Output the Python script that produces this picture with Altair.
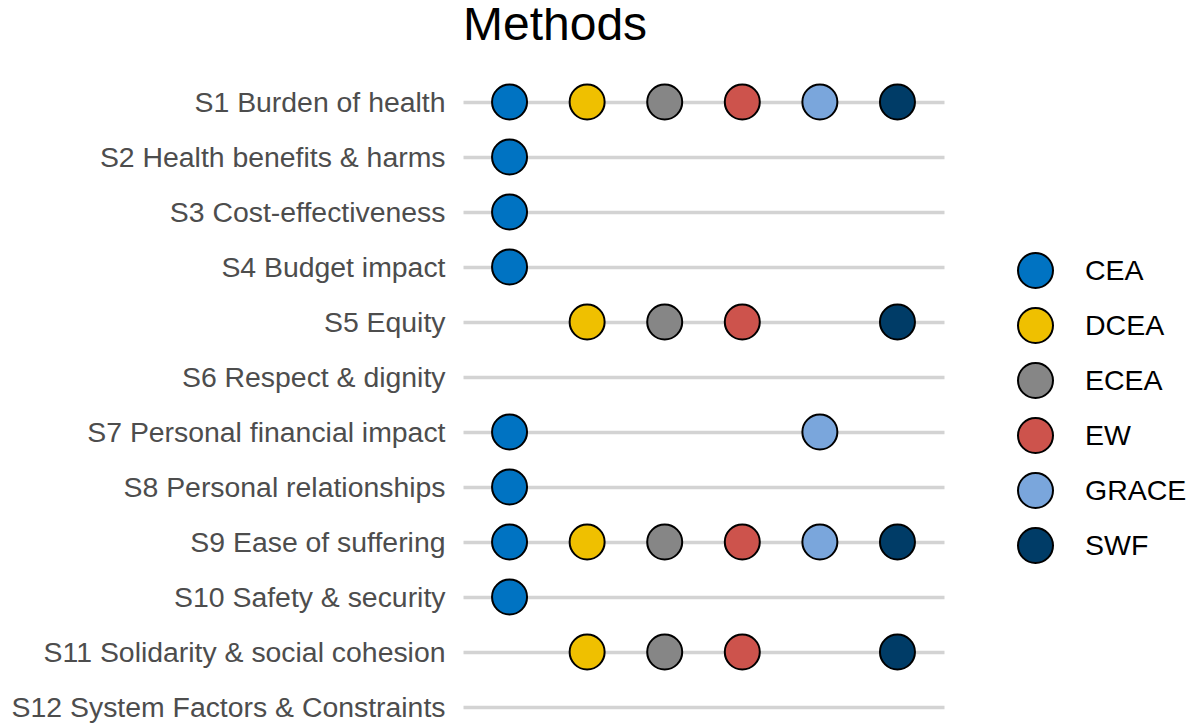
import altair as alt
import pandas as pd

sections = [
    "S1 Burden of health",
    "S2 Health benefits & harms",
    "S3 Cost-effectiveness",
    "S4 Budget impact",
    "S5 Equity",
    "S6 Respect & dignity",
    "S7 Personal financial impact",
    "S8 Personal relationships",
    "S9 Ease of suffering",
    "S10 Safety & security",
    "S11 Solidarity & social cohesion",
    "S12 System Factors & Constraints",
]
methods = ["CEA", "DCEA", "ECEA", "EW", "GRACE", "SWF"]
colors = ["#0073C2", "#EFC000", "#868686", "#CD534C", "#7AA6DC", "#003C67"]

# methods linked to each section
links = {
    "S1 Burden of health": ["CEA", "DCEA", "ECEA", "EW", "GRACE", "SWF"],
    "S2 Health benefits & harms": ["CEA"],
    "S3 Cost-effectiveness": ["CEA"],
    "S4 Budget impact": ["CEA"],
    "S5 Equity": ["DCEA", "ECEA", "EW", "SWF"],
    "S6 Respect & dignity": [],
    "S7 Personal financial impact": ["CEA", "GRACE"],
    "S8 Personal relationships": ["CEA"],
    "S9 Ease of suffering": ["CEA", "DCEA", "ECEA", "EW", "GRACE", "SWF"],
    "S10 Safety & security": ["CEA"],
    "S11 Solidarity & social cohesion": ["DCEA", "ECEA", "EW", "SWF"],
    "S12 System Factors & Constraints": [],
}

rows = [{"section": s, "method": m} for s in sections for m in links[s]]
df = pd.DataFrame(rows)

chart = (
    alt.Chart(df)
    .mark_point(filled=True, shape="circle", size=1225, stroke="black", strokeWidth=2, opacity=1)
    .encode(
        x=alt.X("method:N", scale=alt.Scale(domain=methods, type="point", padding=0.6), axis=None),
        y=alt.Y(
            "section:N",
            sort=sections,
            scale=alt.Scale(domain=sections, type="point", padding=0.4),
            axis=alt.Axis(
                title=None,
                ticks=False,
                tickSize=0,
                domain=False,
                grid=True,
                gridColor="#D3D3D3",
                gridWidth=3.5,
                labelFontSize=28.4,
                labelColor="#4D4D4D",
                labelFont="Liberation Sans",
                labelPadding=18,
                labelLimit=600,
            ),
        ),
        color=alt.Color(
            "method:N",
            scale=alt.Scale(domain=methods, range=colors),
            legend=alt.Legend(
                title=None,
                orient="none",
                legendX=554,
                legendY=172,
                symbolType="circle",
                symbolSize=1225,
                symbolStrokeColor="black",
                symbolStrokeWidth=2,
                symbolOpacity=1,
                labelFontSize=28.5,
                labelFont="Liberation Sans",
                labelColor="black",
                labelOffset=31,
                rowPadding=12,
            ),
        ),
    )
    .properties(
        width=481,
        height=649,
        title=alt.TitleParams(
            "Methods",
            anchor="start",
            frame="group",
            fontSize=48,
            font="Liberation Sans",
            fontWeight="normal",
            color="black",
            offset=30,
        ),
        autosize=alt.AutoSizeParams(type="none"),
        padding={"left": 455, "top": 72, "right": 248, "bottom": 0},
        background="white",
    )
    .configure_view(strokeWidth=0, stroke="transparent")
)

chart.save("out.html", embed_options={"renderer": "svg", "actions": False})
